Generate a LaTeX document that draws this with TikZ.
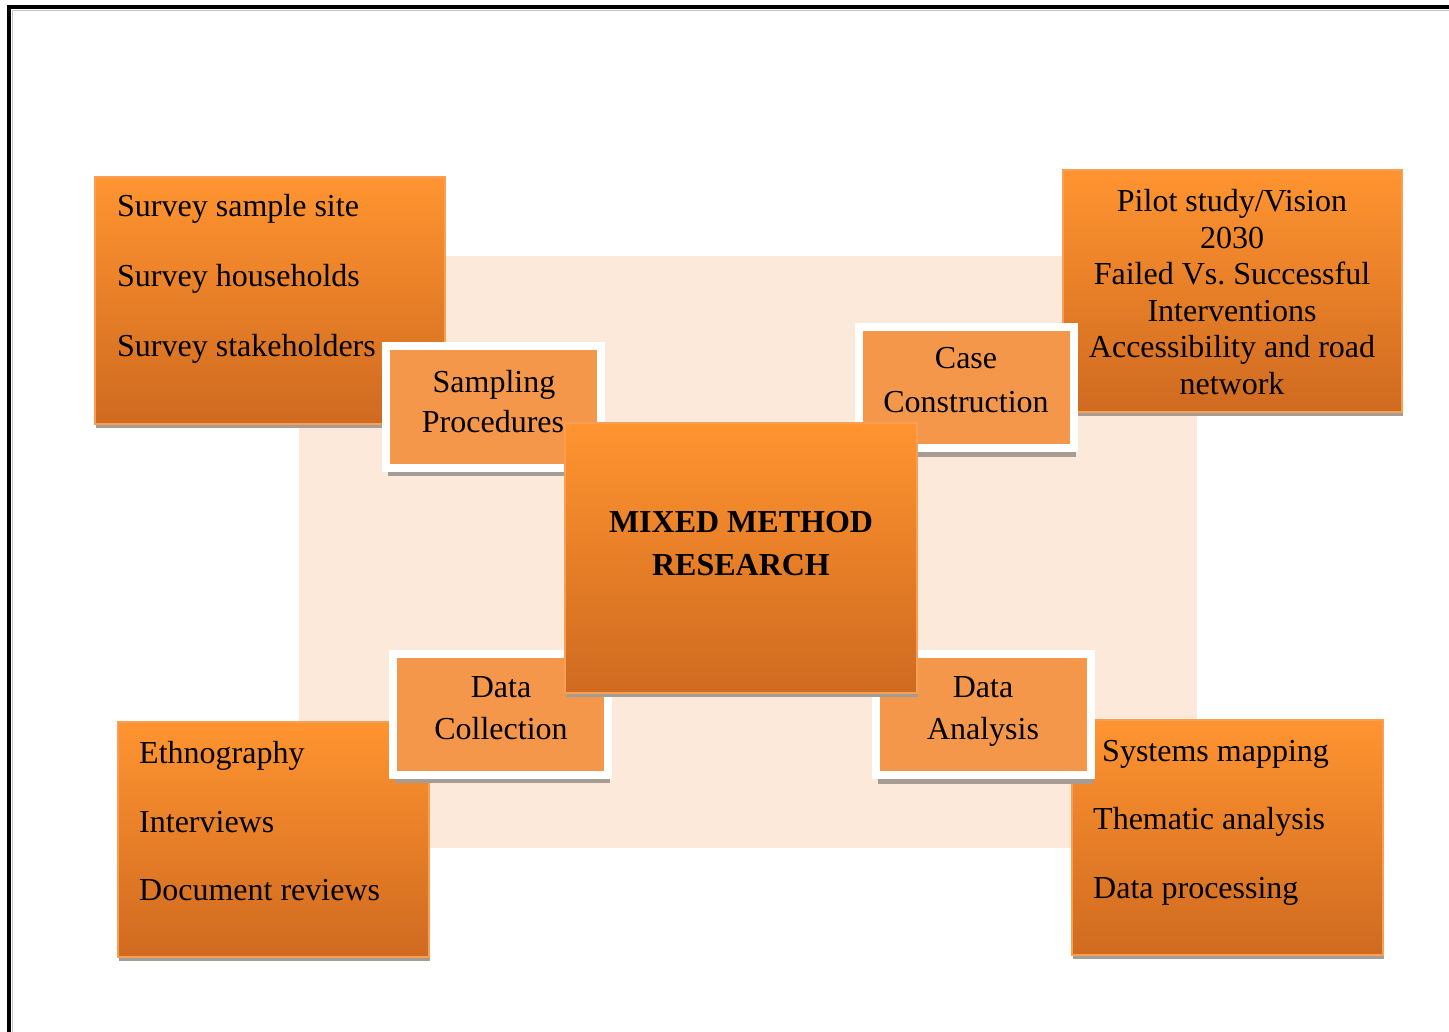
\documentclass[tikz,border=0pt]{standalone}
\usepackage{fontspec}
\setmainfont{Liberation Serif}
\usetikzlibrary{shadows}
\frenchspacing
\definecolor{bgpeach}{HTML}{FCE9DA}
\definecolor{otop}{HTML}{FF9430}
\definecolor{obot}{HTML}{CF6A20}
\definecolor{oedge}{HTML}{F7A055}
\definecolor{satfill}{HTML}{F5974A}
\definecolor{shgray}{HTML}{A59C94}
\tikzset{
  x=1pt, y=-1pt,
  gradbox/.style={draw=oedge, line width=1.5pt, top color=otop, bottom color=obot,
    inner sep=0pt, outer sep=0pt, anchor=north west,
    drop shadow={shadow xshift=1pt, shadow yshift=-4pt, fill=shgray, opacity=1}},
  satbox/.style={draw=white, line width=8pt, fill=satfill, inner sep=0pt, outer sep=0pt,
    minimum width=215pt, minimum height=121pt,
    drop shadow={shadow xshift=2pt, shadow yshift=-8.5pt, fill=shgray, opacity=1}},
  txt/.style={font=\fontsize{32}{36}\selectfont, inner sep=0pt, text=black},
  ltxt/.style={txt, anchor=base west},
  ctxt/.style={txt, anchor=base},
}
\begin{document}
\begin{tikzpicture}
\useasboundingbox (0,0) rectangle (1449,1032);
\fill[white] (0,0) rectangle (1449,1032);
% frame
\draw[gray!45, line width=1pt] (1449,10.5) -- (12.5,10.5) -- (12.5,1032);
\draw[black, line width=4pt] (1449,7) -- (9,7) -- (9,1032);
% background panel
\node[fill=bgpeach, inner sep=0pt, outer sep=0pt, anchor=north west,
  minimum width=898pt, minimum height=592pt] (panel) at (299,256) {};
% outer boxes
\node[gradbox, minimum width=350pt, minimum height=247pt] (tl) at (95,177) {};
\node[ltxt] (tl1) at (117,217) {Survey sample site};
\node[ltxt] (tl2) at (117,287) {Survey households};
\node[ltxt] (tl3) at (117,356) {Survey stakeholders};

\node[gradbox, minimum width=339pt, minimum height=242pt] (tr) at (1063,170) {};
\node[ctxt] (tr1) at (1232,212) {Pilot study/Vision};
\node[ctxt] (tr2) at (1232,248.5) {2030};
\node[ctxt] (tr3) at (1232,285) {Failed Vs. Successful};
\node[ctxt] (tr4) at (1232,321.5) {Interventions};
\node[ctxt] (tr5) at (1232,358) {Accessibility and road};
\node[ctxt] (tr6) at (1232,394.5) {network};

\node[gradbox, minimum width=311pt, minimum height=235pt] (bl) at (118,722) {};
\node[ltxt] (bl1) at (139,763) {Ethnography};
\node[ltxt] (bl2) at (139,832) {Interviews};
\node[ltxt] (bl3) at (139,900) {Document reviews};

\node[gradbox, minimum width=311pt, minimum height=235pt] (br) at (1072,720) {};
\node[ltxt] (br1) at (1102,761) {Systems mapping};
\node[ltxt] (br2) at (1093,829) {Thematic analysis};
\node[ltxt] (br3) at (1093,898) {Data processing};

% satellite boxes
\node[satbox] (samp) at (493,407) {};
\node[ctxt] (samp1) at (494,392) {Sampling};
\node[ctxt] (samp2) at (493,432) {Procedures};

\node[satbox] (case) at (966.5,387.5) {};
\node[ctxt] (case1) at (966,369) {Case};
\node[ctxt] (case2) at (966,412) {Construction};

\node[satbox] (dc) at (500.5,714) {};
\node[ctxt] (dc1) at (501,697) {Data};
\node[ctxt] (dc2) at (501,739) {Collection};

\node[satbox] (da) at (983.5,714.5) {};
\node[ctxt] (da1) at (983,697) {Data};
\node[ctxt] (da2) at (983,739) {Analysis};

% centre
\node[gradbox, minimum width=352pt, minimum height=270pt] (mmr) at (565,423) {};
\node[ctxt, font=\fontsize{32}{36}\selectfont\bfseries] (mmr1) at (741,532) {MIXED METHOD};
\node[ctxt, font=\fontsize{32}{36}\selectfont\bfseries] (mmr2) at (741,575) {RESEARCH};
\end{tikzpicture}
\end{document}
